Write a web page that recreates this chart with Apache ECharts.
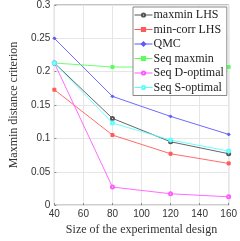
<!DOCTYPE html>
<html><head><meta charset="utf-8">
<script src="https://cdn.jsdelivr.net/npm/echarts@6/dist/echarts.min.js"></script>
<style>html,body{margin:0;padding:0;background:#fff}#c{width:240px;height:241px}</style>
</head><body><div id="c"></div>
<script>
var sizes = [40, 80, 120, 160];
var maxminLHS = [0.213, 0.130, 0.095, 0.077];
var minCorrLHS = [0.173, 0.105, 0.077, 0.0625];
var qmc = [0.250, 0.163, 0.133, 0.106];
var seqMaxmin = [0.213, 0.207, 0.207, 0.207];
var seqDopt = [0.213, 0.027, 0.017, 0.0124];
var seqSopt = [0.213, 0.123, 0.0976, 0.081];
var names = ['maxmin LHS','min-corr LHS','QMC','Seq maxmin','Seq D-optimal','Seq S-optimal'];
var colors = ['#555555','#ff5a5a','#5a5aff','#5aff5a','#ff5aff','#5affff'];
var symbols = ['emptyCircle','rect','diamond','rect','emptyCircle','emptyCircle'];
var vals = [maxminLHS, minCorrLHS, qmc, seqMaxmin, seqDopt, seqSopt];
var chart = echarts.init(document.getElementById('c'));
var serif = 'Liberation Serif';
var series = vals.map(function(v,i){
  return {name:names[i], type:'line', data:sizes.map(function(x,j){return [x,v[j]];}),
    symbol:symbols[i], symbolSize:3, showSymbol:true,
    lineStyle:{width:0.9,color:colors[i]}, itemStyle:{color:colors[i],borderColor:colors[i],borderWidth:1}};
});
chart.setOption({
  animation:false,
  grid:{left:34,right:7,top:4,bottom:28,show:true,borderColor:'#888',borderWidth:1},
  legend:{orient:'vertical',left:133,top:7,itemWidth:18,itemHeight:4,itemGap:2.5,
    backgroundColor:'#fff',borderColor:'#888',borderWidth:1,padding:[2,3,2,1],
    lineStyle:{width:1},
    textStyle:{fontFamily:serif,fontSize:12,color:'#222',padding:[0,0,0,-4]},data:names},
  xAxis:{type:'value',min:40,max:160,interval:20,
    name:'Size of the experimental design',nameLocation:'middle',nameGap:18,
    nameTextStyle:{fontFamily:serif,fontSize:12,color:'#333'},
    axisLine:{show:false},axisTick:{show:true,inside:true,length:2,lineStyle:{color:'#888'}},
    axisLabel:{fontFamily:'Liberation Sans',fontSize:10,color:'#333',margin:4},
    splitLine:{lineStyle:{color:'#e6e6e6'}}},
  yAxis:{type:'value',min:0,max:0.3,interval:0.05,
    name:'Maxmin distance criterion',nameLocation:'middle',nameGap:25,
    nameTextStyle:{fontFamily:serif,fontSize:12,color:'#333'},
    axisLine:{show:false},axisTick:{show:true,inside:true,length:2,lineStyle:{color:'#888'}},
    axisLabel:{fontFamily:'Liberation Sans',fontSize:10,color:'#333',margin:4,
      formatter:function(v){return String(+v.toFixed(2));}},
    splitLine:{lineStyle:{color:'#e6e6e6'}}},
  series:series
});
</script></body></html>
